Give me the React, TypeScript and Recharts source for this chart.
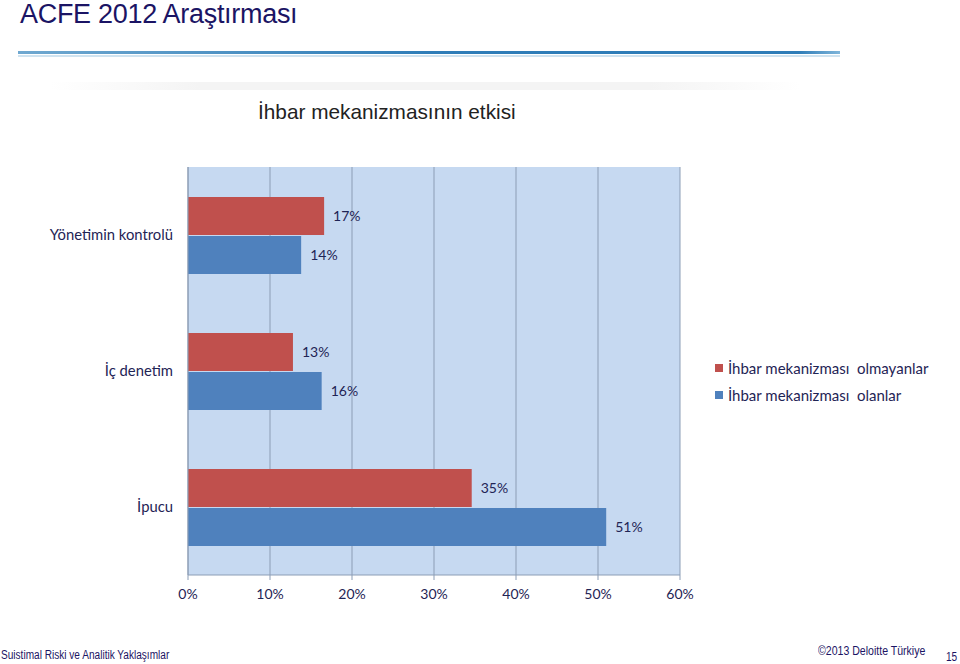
import { BarChart, Bar, XAxis, YAxis, CartesianGrid, LabelList } from "recharts";

const categories = ["Yönetimin kontrolü", "İç denetim", "İpucu"];
const withoutHotline = [0.166, 0.128, 0.346];
const withHotline = [0.138, 0.163, 0.51];
const xTicks = [0, 0.1, 0.2, 0.3, 0.4, 0.5, 0.6];
const seriesNames = ["İhbar mekanizması  olmayanlar", "İhbar mekanizması  olanlar"];
const seriesColors = ["#C0504D", "#4F81BD"];

const data = categories.map((c, i) => ({
    name: c,
    olmayan: withoutHotline[i],
    olan: withHotline[i],
}));

const navy = "#1F2455";
const pct = (v: number) => `${Math.round(Number(v) * 100)}%`;
const narrow = { fontSize: 12, color: "#1B1464", transform: "scaleX(0.84)", transformOrigin: "left top", whiteSpace: "nowrap" as const };

export default function App() {
    return (
        <div style={{ position: "absolute", left: 0, top: 0, width: 960, height: 664, background: "#fff", overflow: "hidden", fontFamily: "'Liberation Sans', Arial, sans-serif" }}>
            <div style={{ position: "absolute", left: 20, top: 1, fontSize: 27, lineHeight: "27px", color: "#1B1464", letterSpacing: -0.3, whiteSpace: "nowrap" }}>
                ACFE 2012 Araştırması
            </div>
            <div style={{ position: "absolute", left: 18, top: 51, width: 822, height: 3, background: "linear-gradient(to right, #6FA8D0, #2E7DB8 50%, #2E7DB8 95%, #7FB5DA)" }} />
            <div style={{ position: "absolute", left: 18, top: 55, width: 822, height: 2, background: "#CFE3F0" }} />
            <div style={{ position: "absolute", left: 50, top: 82, width: 750, height: 8, background: "linear-gradient(to right, #fff, #f4f4f4 20%, #f4f4f4 80%, #fff)" }} />
            <div style={{ position: "absolute", left: 258, top: 100, fontSize: 21, lineHeight: "24px", color: "#222", transform: "scaleX(0.99)", transformOrigin: "left top", whiteSpace: "nowrap" }}>
                İhbar mekanizmasının etkisi
            </div>

            <div style={{ position: "absolute", left: 0, top: 0 }}>
                <BarChart
                    width={960}
                    height={664}
                    data={data}
                    layout="vertical"
                    margin={{ top: 167, right: 280, bottom: 59, left: 8 }}
                    barGap={1}
                >
                    <CartesianGrid horizontal={false} stroke="#8C9DB5" fill="#C6D9F1" />
                    <XAxis
                        type="number"
                        domain={[0, 0.6]}
                        ticks={xTicks}
                        tickFormatter={pct}
                        height={30}
                        stroke="#8C9DB5"
                        tickSize={5}
                        tickMargin={9}
                        tick={{ fill: navy, fontSize: 14, fontFamily: "Lato, sans-serif" }}
                    />
                    <YAxis
                        type="category"
                        dataKey="name"
                        width={180}
                        stroke="#8C9DB5"
                        tickLine={false}
                        tickMargin={9}
                        tick={{ fill: navy, fontSize: 14.8, fontFamily: "Lato, sans-serif" }}
                    />
                    <Bar dataKey="olmayan" fill={seriesColors[0]} barSize={38} isAnimationActive={false}>
                        <LabelList dataKey="olmayan" position="right" offset={9} formatter={pct} fill={navy} fontSize={14} fontFamily="Lato, sans-serif" />
                    </Bar>
                    <Bar dataKey="olan" fill={seriesColors[1]} barSize={38} isAnimationActive={false}>
                        <LabelList dataKey="olan" position="right" offset={9} formatter={pct} fill={navy} fontSize={14} fontFamily="Lato, sans-serif" />
                    </Bar>
                </BarChart>
            </div>

            <div style={{ position: "absolute", left: 715, top: 354, fontFamily: "Lato, sans-serif", fontSize: 15, color: navy }}>
                {seriesNames.map((n, i) => (
                    <div key={n} style={{ display: "flex", alignItems: "center", height: 27, whiteSpace: "pre" }}>
                        <span style={{ display: "inline-block", width: 8, height: 8, background: seriesColors[i], marginRight: 5 }} />
                        {n}
                    </div>
                ))}
            </div>

            <div style={{ position: "absolute", left: 1, top: 648, ...narrow }}>
                Suistimal Riski ve Analitik Yaklaşımlar
            </div>
            <div style={{ position: "absolute", left: 818, top: 644, ...narrow, transform: "scaleX(0.88)" }}>
                ©2013 Deloitte Türkiye
            </div>
            <div style={{ position: "absolute", left: 946, top: 650, ...narrow }}>
                15
            </div>
        </div>
    );
}
